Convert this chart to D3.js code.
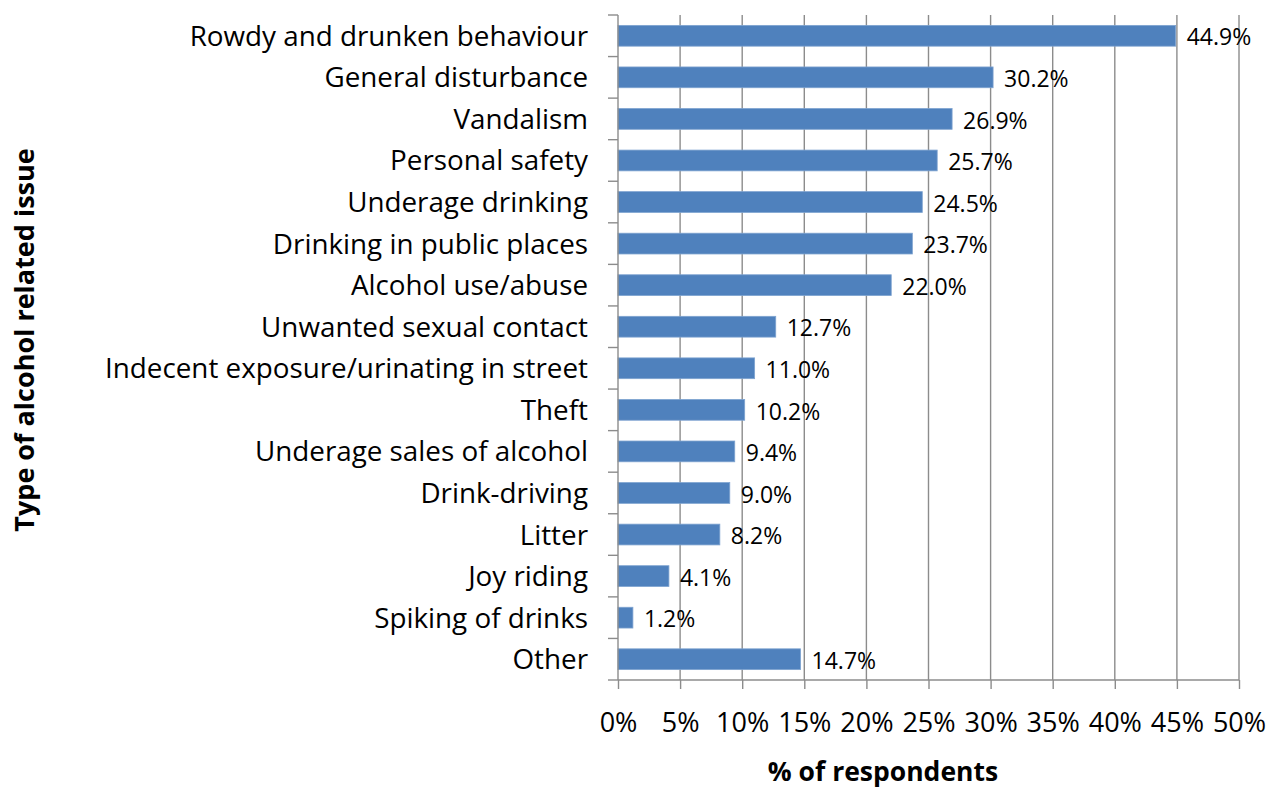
<!DOCTYPE html>
<html>
<head>
<meta charset="utf-8">
<script src="https://cdn.jsdelivr.net/npm/d3@7"></script>
<style>
  html, body { margin: 0; padding: 0; background: #fff; }
  svg { display: block; }
  text { font-family: "Open Sans", "Noto Sans", sans-serif; fill: #000; }
</style>
</head>
<body>
<svg id="chart" width="1269" height="790"></svg>
<script>
// Types of alcohol related issue and share of respondents (%)
const categories = [
  "Rowdy and drunken behaviour",
  "General disturbance",
  "Vandalism",
  "Personal safety",
  "Underage drinking",
  "Drinking in public places",
  "Alcohol use/abuse",
  "Unwanted sexual contact",
  "Indecent exposure/urinating in street",
  "Theft",
  "Underage sales of alcohol",
  "Drink-driving",
  "Litter",
  "Joy riding",
  "Spiking of drinks",
  "Other"
];
const percentages = [44.9, 30.2, 26.9, 25.7, 24.5, 23.7, 22.0, 12.7, 11.0, 10.2, 9.4, 9.0, 8.2, 4.1, 1.2, 14.7];
const xTicks = [0, 5, 10, 15, 20, 25, 30, 35, 40, 45, 50];
const xTitle = "% of respondents";
const yTitle = "Type of alcohol related issue";

const svg = d3.select("#chart");
const plot = { left: 618, right: 1239, top: 15, bottom: 680 };
const gridColor = "#8c8c8c";

const x = d3.scaleLinear().domain([0, 50]).range([plot.left, plot.right]);
const y = d3.scaleBand().domain(categories).range([plot.top, plot.bottom])
  .paddingInner(0.5).paddingOuter(0.25);

// vertical gridlines
svg.append("g").selectAll("line").data(xTicks.slice(1)).join("line")
  .attr("x1", d => x(d)).attr("x2", d => x(d))
  .attr("y1", plot.top).attr("y2", plot.bottom)
  .attr("stroke", gridColor).attr("stroke-width", 1.4);

// bars
svg.append("g").selectAll("rect").data(percentages).join("rect")
  .attr("x", x(0))
  .attr("y", (d, i) => y(categories[i]))
  .attr("width", d => x(d) - x(0))
  .attr("height", y.bandwidth())
  .attr("fill", "#4f81bd")
  .attr("stroke", "#7ea3d0")
  .attr("stroke-width", 0.8);

// bottom axis
const xAxis = d3.axisBottom(x).tickValues(xTicks).tickSize(9)
  .tickFormat(d => d + "%");
const gx = svg.append("g").attr("transform", `translate(0,${plot.bottom})`).call(xAxis);
gx.select(".domain").attr("stroke", gridColor).attr("stroke-width", 1.4)
  .attr("d", `M${plot.left},0H${plot.right}`);
gx.selectAll(".tick line").attr("stroke", gridColor).attr("stroke-width", 1.4);
gx.selectAll(".tick text")
  .attr("y", 52).attr("dy", 0)
  .attr("font-size", 27).attr("font-family", '"Open Sans", sans-serif').attr("fill", "#000");

// left axis: line with ticks at category boundaries
const ySep = categories.map((c, i) => plot.top + i * y.step()).concat([plot.bottom]);
svg.append("line")
  .attr("x1", plot.left).attr("x2", plot.left)
  .attr("y1", plot.top).attr("y2", plot.bottom)
  .attr("stroke", gridColor).attr("stroke-width", 1.4);
svg.append("g").selectAll("line").data(ySep).join("line")
  .attr("x1", plot.left - 10).attr("x2", plot.left)
  .attr("y1", d => d).attr("y2", d => d)
  .attr("stroke", gridColor).attr("stroke-width", 1.4);

// category labels
svg.append("g").selectAll("text").data(categories).join("text")
  .attr("x", plot.left - 30)
  .attr("y", d => y(d) + y.bandwidth() / 2)
  .attr("dy", "0.36em")
  .attr("text-anchor", "end")
  .attr("font-size", 27.8)
  .text(d => d);

// value labels
svg.append("g").selectAll("text").data(percentages).join("text")
  .attr("x", d => x(d) + 11)
  .attr("y", (d, i) => y(categories[i]) + y.bandwidth() / 2)
  .attr("dy", "0.42em")
  .attr("font-size", 23)
  .text(d => d.toFixed(1) + "%");

// axis titles
svg.append("text")
  .attr("x", 883).attr("y", 781)
  .attr("text-anchor", "middle")
  .attr("font-size", 26.5).attr("font-weight", "bold")
  .text(xTitle);

svg.append("text")
  .attr("transform", "translate(34,340) rotate(-90)")
  .attr("text-anchor", "middle")
  .attr("font-size", 27).attr("font-weight", "bold")
  .text(yTitle);
</script>
</body>
</html>
